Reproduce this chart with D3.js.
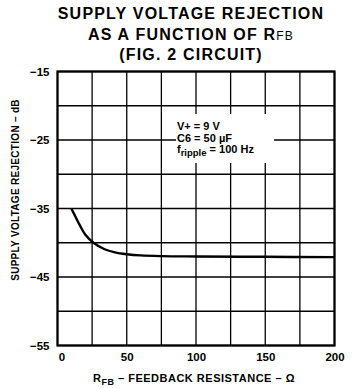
<!DOCTYPE html>
<html><head><meta charset="utf-8">
<script src="https://cdn.jsdelivr.net/npm/d3@7"></script>
<style>
html,body{margin:0;padding:0;background:#fff;}
svg{display:block;}
text{font-family:"Liberation Sans",Arial,Helvetica,sans-serif;font-weight:bold;fill:#000;}
</style></head>
<body><svg id="c" width="356" height="389"></svg>
<script>
const rfb = [10, 13, 16, 20, 26, 34, 41.5, 50, 60, 75, 100, 150, 200];
const svr = [-35, -36.2, -37.4, -38.8, -40.0, -40.95, -41.4, -41.67, -41.85, -41.95, -42.0, -42.05, -42.1];
const xTickLabels = [0, 50, 100, 150, 200];
const yTickLabels = [-15, -25, -35, -45, -55];
const xGrid = [0, 25, 50, 75, 100, 125, 150, 175, 200];
const yGrid = [-15, -20, -25, -30, -35, -40, -45, -50, -55];
const notes = ["V+ = 9 V", "C6 = 50 µF", "f|ripple| = 100 Hz"];

const svg = d3.select("#c");
const m = {l: 57.5, r: 334.5, t: 71.5, b: 345.5};
const x = d3.scaleLinear().domain([0, 200]).range([m.l, m.r]);
const y = d3.scaleLinear().domain([-55, -15]).range([m.b, m.t]);

// grid
svg.append("g").selectAll("line").data(xGrid).join("line")
  .attr("x1", d => x(d)).attr("x2", d => x(d)).attr("y1", m.t).attr("y2", m.b)
  .attr("stroke", "#000").attr("stroke-width", 1.3);
svg.append("g").selectAll("line").data(yGrid).join("line")
  .attr("y1", d => y(d)).attr("y2", d => y(d)).attr("x1", m.l).attr("x2", m.r)
  .attr("stroke", "#000").attr("stroke-width", 1.3);
// frame
svg.append("rect").attr("x", m.l).attr("y", m.t).attr("width", m.r - m.l).attr("height", m.b - m.t)
  .attr("fill", "none").attr("stroke", "#000").attr("stroke-width", 2.2);

// axes with d3 (tick labels only)
const yAxis = d3.axisLeft(y).tickValues(yTickLabels).tickSize(0).tickPadding(8).tickFormat(d => "\u2212" + Math.abs(d));
const gy = svg.append("g").attr("transform", `translate(${m.l},0)`).call(yAxis);
gy.select(".domain").remove();
gy.selectAll("text").attr("font-size", 11.5).attr("font-family", "Liberation Sans, Arial, sans-serif").attr("font-weight", "bold");

const xAxis = d3.axisBottom(x).tickValues(xTickLabels).tickSize(0).tickPadding(7);
const gx = svg.append("g").attr("transform", `translate(0,${m.b})`).call(xAxis);
gx.select(".domain").remove();
gx.selectAll("text").attr("font-size", 11.5).attr("font-family", "Liberation Sans, Arial, sans-serif").attr("font-weight", "bold");
gx.selectAll(".tick").filter(d => d === 0).select("text").attr("dx", 4);

// curve
const line = d3.line().x(d => x(d[0])).y(d => y(d[1])).curve(d3.curveCatmullRom.alpha(0.5));
svg.append("path").datum(rfb.map((r, i) => [r, svr[i]])).attr("d", line)
  .attr("fill", "none").attr("stroke", "#000").attr("stroke-width", 2.4);

// title
const title = svg.append("g").attr("font-size", 16).attr("letter-spacing", 1.2);
title.append("text").attr("x", 191).attr("y", 19).attr("text-anchor", "middle").text("SUPPLY VOLTAGE REJECTION");
const t2 = title.append("text").attr("x", 191).attr("y", 40).attr("text-anchor", "middle");
t2.append("tspan").text("AS A FUNCTION OF R");
t2.append("tspan").attr("font-size", 12).attr("font-weight", "normal").text("FB");
title.append("text").attr("x", 191).attr("y", 60).attr("text-anchor", "middle").text("(FIG. 2 CIRCUIT)");

// notes with white backing
svg.append("rect").attr("x", 176).attr("y", 114).attr("width", 98).attr("height", 49).attr("fill", "#fff");
const ng = svg.append("g");
notes.forEach((n, i) => {
  const t = ng.append("text").attr("x", 177).attr("y", 130 + i * 11.7).attr("font-size", 11);
  const parts = n.split("|");
  t.append("tspan").text(parts[0]);
  if (parts.length > 1) {
    t.append("tspan").attr("dy", 3).attr("font-size", 9.5).text(parts[1]);
    t.append("tspan").attr("dy", -3).text(parts[2]);
  }
});

// y label
svg.append("text").attr("transform", "translate(19,190) rotate(-90)").attr("text-anchor", "middle")
  .attr("font-size", 10).attr("letter-spacing", 0.3).text("SUPPLY VOLTAGE REJECTION \u2013 dB");

// x label
const xl = svg.append("text").attr("x", 194).attr("y", 382).attr("text-anchor", "middle").attr("font-size", 11).attr("letter-spacing", 0.5);
xl.append("tspan").text("R");
xl.append("tspan").attr("dy", 2.5).attr("font-size", 9).text("FB");
xl.append("tspan").attr("dy", -2.5).text(" \u2013 FEEDBACK RESISTANCE \u2013 \u03A9");
</script></body></html>
